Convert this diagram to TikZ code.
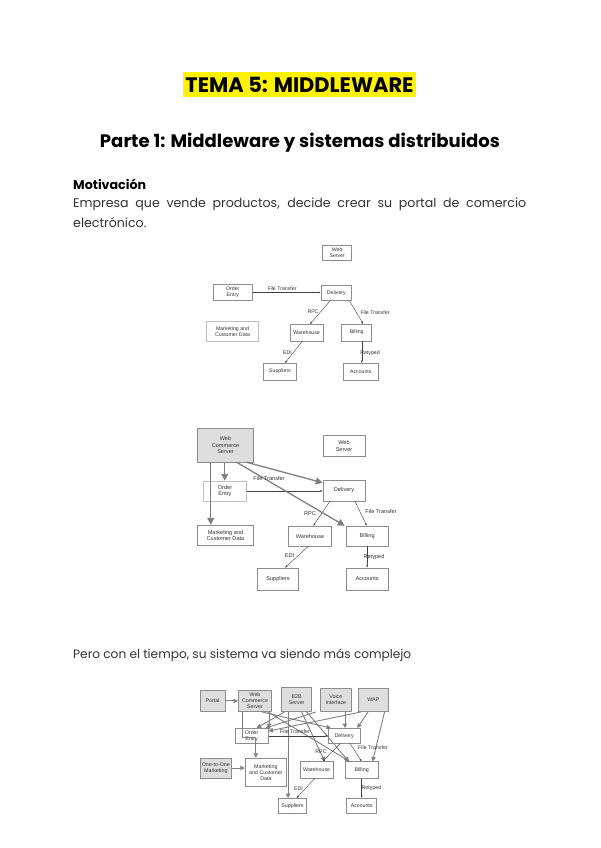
\documentclass[tikz,border=0pt]{standalone}
\usepackage{fontspec}
\setmainfont{Poppins}
\newfontfamily\dg{Liberation Sans}
\usepackage{graphicx}
\usetikzlibrary{arrows.meta,calc}
\tikzset{
  bx/.style={draw=black!45, line width=0.5pt, fill=white, inner sep=0pt, align=center, text=black!80},
  gbx/.style={bx, fill=black!13},
  thinarr/.style={draw=black!75, line width=0.4pt, -{Latex[length=2.5pt,width=2pt]}},
  thickarr/.style={draw=black!50, line width=1.3pt, -{Triangle[length=7pt,width=7pt]}},
  midarr/.style={draw=black!50, line width=0.9pt, -{Triangle[length=4.5pt,width=4.5pt]}},
  lbl/.style={inner sep=0.3pt, fill=none, text=black!80}
}
\newcommand\bn[7][]{\node[bx,#1,minimum width={(#5-#3)*1pt},minimum height={(#6-#4)*1pt}] (#2) at ({(#3+#5)/2},{(#4+#6)/2}) {#7};}
\begin{document}
\begin{tikzpicture}[x=1pt,y=-1pt]
\useasboundingbox[fill=white] (0,0) rectangle (600,848);
% ---------- text ----------
\node[fill=yellow, inner sep=0pt, minimum width=233pt, minimum height=25pt] (title) at (299.5,85) {\resizebox{228pt}{!}{\bfseries TEMA 5: MIDDLEWARE}};
\node[inner sep=0pt] (head) at (300,143) {\resizebox{400pt}{!}{\bfseries Parte 1: Middleware y sistemas distribuidos}};
\node[inner sep=0pt, anchor=west] (motiv) at (73,184) {\resizebox{73pt}{!}{\bfseries Motivación}};
\node[inner sep=0pt, anchor=west, text=black!80] (body1) at (73,204)
  {\fontsize{12.6}{15}\selectfont\makebox[453pt][s]{Empresa que vende productos, decide crear su portal de comercio}};
\node[inner sep=0pt, anchor=west, text=black!80] (body2) at (73,222.7)
  {\fontsize{12.6}{15}\selectfont electrónico.};
\node[inner sep=0pt, anchor=west] (pero) at (73,655) {\color{black!80}\resizebox{338pt}{!}{Pero con el tiempo, su sistema va siendo más complejo}};
% ---------- diagram 1 ----------
\begin{scope}[every node/.append style={font=\dg\fontsize{5.2}{6}\selectfont}]
\bn{ws1}{322.7}{245}{351.7}{260.7}{Web\\Server}
\bn{oe1}{213.3}{284.3}{252.3}{300.7}{Order\\Entry}
\bn[draw=black!25]{mk1}{206.7}{321.7}{258.3}{341.7}{Marketing and\\Customer Data}
\bn{dl1}{321}{285}{351.7}{300.7}{Delivery}
\bn{wh1}{290}{324.3}{323.3}{341}{Warehouse}
\bn{bi1}{341.7}{324.3}{371.7}{341}{Billing}
\bn{su1}{263.3}{363.3}{296.7}{380}{Suppliers}
\bn{ac1}{343.3}{363.3}{378.3}{380}{Accounts}
\draw[thinarr] (oe1.east) -- (oe1.east -| dl1.west);
\draw[thinarr] ([xshift=-6.3pt]dl1.south) -- ([xshift=3.3pt]wh1.north);
\draw[thinarr] ([xshift=-2.4pt]dl1.south east) -- ([xshift=6.6pt]bi1.north);
\draw[thinarr] ([xshift=-4.3pt]wh1.south) -- ([xshift=5pt]su1.north);
\draw[thinarr] ([xshift=5pt]bi1.south) -- ([xshift=5pt]bi1.south |- ac1.north);
\node[lbl] (l1a) at (282,288.5) {File Transfer};
\node[lbl] (l1b) at (313,312) {RPC};
\node[lbl] (l1c) at (375,313) {File Transfer};
\node[lbl] (l1d) at (287.5,353) {EDI};
\node[lbl] (l1e) at (370,353) {Retyped};
\end{scope}
% ---------- diagram 2 ----------
\begin{scope}[every node/.append style={font=\dg\fontsize{5.6}{6.5}\selectfont}]
\bn[gbx]{wcs2}{197.7}{428}{253.3}{462}{Web\\Commerce\\Server}
\bn{ws2}{323}{435}{365}{456.5}{Web\\Server}
\bn[draw=black!25]{oe2}{203.3}{481}{246.7}{501}{Order\\Entry}
\bn{dl2}{323}{480}{365}{501}{Delivery}
\bn{mk2}{197.7}{525}{253.3}{545.7}{Marketing and\\Customer Data}
\bn{wh2}{288.3}{526}{331.7}{546}{Warehouse}
\bn{bi2}{346}{526}{388.3}{546}{Billing}
\bn{su2}{257.7}{568}{298.3}{590}{Suppliers}
\bn{ac2}{346}{568}{388.3}{590}{Accounts}
\draw[thinarr] (oe2.east) -- (oe2.east -| dl2.west);
\draw[thinarr] ([xshift=-14pt]dl2.south) -- ([xshift=3.3pt]wh2.north);
\draw[thinarr] ([xshift=11pt]dl2.south) -- ([xshift=-0.5pt]bi2.north);
\draw[thinarr] ([xshift=-1.7pt]wh2.south) -- ([xshift=7pt]su2.north);
\draw[thinarr] (bi2.south) -- (ac2.north);
\draw[thickarr] ([xshift=13.3pt]wcs2.south west) -- ([xshift=13.3pt]mk2.north west);
\draw[thickarr] ([xshift=27.3pt]wcs2.south west) -- ([xshift=27.3pt]wcs2.south west |- oe2.north);
\draw[thickarr] ([xshift=-7pt]wcs2.south east) -- ([yshift=-3pt]dl2.north west);
\draw[thickarr] ([xshift=-17pt]wcs2.south east) -- ([xshift=-1pt]bi2.north west);
\node[lbl] (l2a) at (269,478) {File Transfer};
\node[lbl] (l2b) at (310,514) {RPC};
\node[lbl] (l2c) at (381,511) {File Transfer};
\node[lbl] (l2d) at (289.5,556) {EDI};
\node[lbl] (l2e) at (374,556.7) {Retyped};
\end{scope}
% ---------- diagram 3 ----------
\begin{scope}[every node/.append style={font=\dg\fontsize{5.3}{6.1}\selectfont}]
\bn[gbx]{po3}{200}{690}{225}{711.7}{Portal}
\bn[gbx]{wc3}{238.3}{690}{271.7}{711.7}{Web\\Commerce\\Server}
\bn[gbx]{b23}{281.7}{687}{311.7}{711.7}{B2B\\Server}
\bn[gbx]{vi3}{320}{688}{351.7}{711.7}{Voice\\Interface}
\bn[gbx]{wa3}{358.3}{688}{388.3}{711.7}{WAP}
\bn{oe3}{235}{728.3}{268.3}{743.3}{Order\\Entry}
\bn{dl3}{328.3}{728.3}{360}{743.3}{Delivery}
\bn[gbx]{oo3}{200}{758}{231.7}{778}{One-to-One\\Marketing}
\bn{mk3}{245}{758}{286.7}{786.7}{Marketing\\and Customer\\Data}
\bn{wh3}{300}{761.7}{333.3}{778.3}{Warehouse}
\bn{bi3}{345}{761.7}{378.3}{778.3}{Billing}
\bn{su3}{278.3}{798.3}{306.7}{813.3}{Suppliers}
\bn{ac3}{346.7}{798.3}{376.7}{813.3}{Accounts}
\draw[midarr] (po3.east) -- (po3.east -| wc3.west);
\draw[midarr] (oo3.east) -- (oo3.east -| mk3.west);
\draw[midarr] ([xshift=-3pt]wc3.south east) -- ([xshift=-3pt]wc3.south east |- oe3.north);
\draw[midarr] ([xshift=4pt]wc3.south west) |- ++(0,25) -| ([xshift=-10pt]mk3.north);
\draw[midarr] ([xshift=-10pt]wc3.south east) -- ([xshift=3pt]dl3.north west);
\draw[midarr] ([xshift=-4pt]wc3.south east) -- ([xshift=5pt]bi3.north west);
\draw[midarr] ([xshift=3pt]b23.south west) -- ([xshift=-12pt]oe3.north east);
\draw[midarr] ([xshift=6.6pt]b23.south west) -- ([xshift=6.6pt]b23.south west |- su3.north);
\draw[midarr] ([xshift=5pt]b23.south) -- ([xshift=8pt]wh3.north);
\draw[midarr] ([xshift=10pt]b23.south) -- ([xshift=4pt]bi3.north west);
\draw[midarr] ([xshift=-4pt]vi3.south west) -- ([xshift=-3pt]oe3.north east);
\draw[midarr] ([xshift=-7pt]vi3.south east) -- ([xshift=-7pt]vi3.south east |- dl3.north);
\draw[midarr] ([xshift=3pt]wa3.south west) -- ([yshift=-3pt]oe3.north east);
\draw[midarr] ([xshift=10pt]wa3.south west) -- ([xshift=-3pt]dl3.north east);
\draw[midarr] ([xshift=-4pt]wa3.south east) -- ([xshift=-6pt]bi3.north east);
\draw[thinarr] (oe3.east) -- (oe3.east -| dl3.west);
\draw[thinarr] ([xshift=-4pt]dl3.south) -- ([xshift=6pt]wh3.north);
\draw[thinarr] ([xshift=6pt]dl3.south) -- ([xshift=0pt]bi3.north);
\draw[thinarr] ([xshift=-2pt]wh3.south) -- ([xshift=4pt]su3.north);
\draw[thinarr] (bi3.south) -- (bi3.south |- ac3.north);
\node[lbl] (l3a) at (295,731.7) {File Transfer};
\node[lbl] (l3b) at (321,751.7) {RPC};
\node[lbl] (l3c) at (373,748) {File Transfer};
\node[lbl] (l3d) at (298.5,788.3) {EDI};
\node[lbl] (l3e) at (371.5,788.3) {Retyped};
\end{scope}
\end{tikzpicture}
\end{document}
